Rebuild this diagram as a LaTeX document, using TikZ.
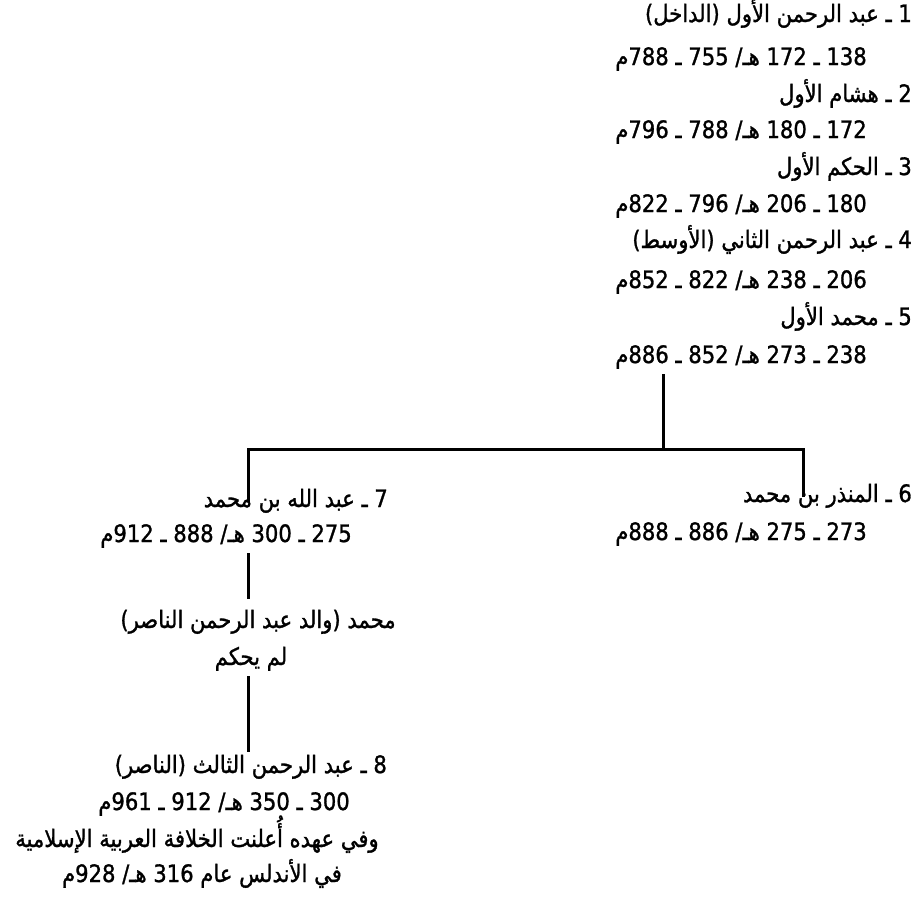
\documentclass[tikz,border=0pt]{standalone}
\usepackage{fontspec}
\newfontfamily\arabicfont[Script=Arabic, FakeBold=1.2, FakeStretch=0.88]{DejaVu Sans}
\TeXXeTstate=1
\newcommand{\rtl}[1]{\beginR #1\endR}

\begin{document}
\begin{tikzpicture}[x=1pt, y=-1pt,
  ruler/.style={anchor=east, inner xsep=0pt, inner ysep=5pt, text height=16pt, text depth=6pt,
    font=\arabicfont\fontsize{24}{28}\selectfont},
  note/.style={ruler, anchor=center},
  link/.style={line width=3pt}]
  \useasboundingbox (0,0) rectangle (922,900);
  % first five emirs, one under the other
  \node[ruler] (t1) at (912,17)  {\rtl{1 ـ عبد الرحمن الأول (الداخل)}};
  \node[ruler] (d1) at (867,60)  {\rtl{138 ـ 172 هـ/ 755 ـ 788م}};
  \node[ruler] (t2) at (912,97)  {\rtl{2 ـ هشام الأول}};
  \node[ruler] (d2) at (867,133) {\rtl{172 ـ 180 هـ/ 788 ـ 796م}};
  \node[ruler] (t3) at (912,170) {\rtl{3 ـ الحكم الأول}};
  \node[ruler] (d3) at (867,207) {\rtl{180 ـ 206 هـ/ 796 ـ 822م}};
  \node[ruler] (t4) at (912,243) {\rtl{4 ـ عبد الرحمن الثاني (الأوسط)}};
  \node[ruler] (d4) at (867,283) {\rtl{206 ـ 238 هـ/ 822 ـ 852م}};
  \node[ruler] (t5) at (912,320) {\rtl{5 ـ محمد الأول}};
  \node[ruler] (d5) at (867,358) {\rtl{238 ـ 273 هـ/ 852 ـ 886م}};
  % the two sons
  \node[ruler] (t6) at (912,497) {\rtl{6 ـ المنذر بن محمد}};
  \node[ruler] (d6) at (867,535) {\rtl{273 ـ 275 هـ/ 886 ـ 888م}};
  \node[ruler] (t7) at (388,502) {\rtl{7 ـ عبد الله بن محمد}};
  \node[ruler] (d7) at (352,537) {\rtl{275 ـ 300 هـ/ 888 ـ 912م}};
  % father of the caliph
  \node[note] (m1) at (258,623) {\rtl{محمد (والد عبد الرحمن الناصر)}};
  \node[note] (m2) at (251,660) {\rtl{لم يحكم}};
  % the caliph
  \node[ruler] (t8) at (387,768) {\rtl{8 ـ عبد الرحمن الثالث (الناصر)}};
  \node[ruler] (d8) at (350,805) {\rtl{300 ـ 350 هـ/ 912 ـ 961م}};
  \node[note] (n1) at (197,842) {\rtl{وفي عهده أُعلنت الخلافة العربية الإسلامية}};
  \node[note] (n2) at (202,877) {\rtl{في الأندلس عام 316 هـ/ 928م}};
  % connectors
  \coordinate (split) at (663,449);
  \coordinate (armL) at (248,449);
  \coordinate (armR) at (803,449);
  \draw[link] (d5.south -| split) -- (split);
  \draw[link] (t7 -| armL) -- (armL) -- (armR) -- (t6 -| armR);
  \draw[link] (d7.south -| armL) -- ([yshift=8pt]m1.north -| armL);
  \draw[link] (m2.south -| armL) -- (t8.north -| armL);
\end{tikzpicture}
\end{document}
